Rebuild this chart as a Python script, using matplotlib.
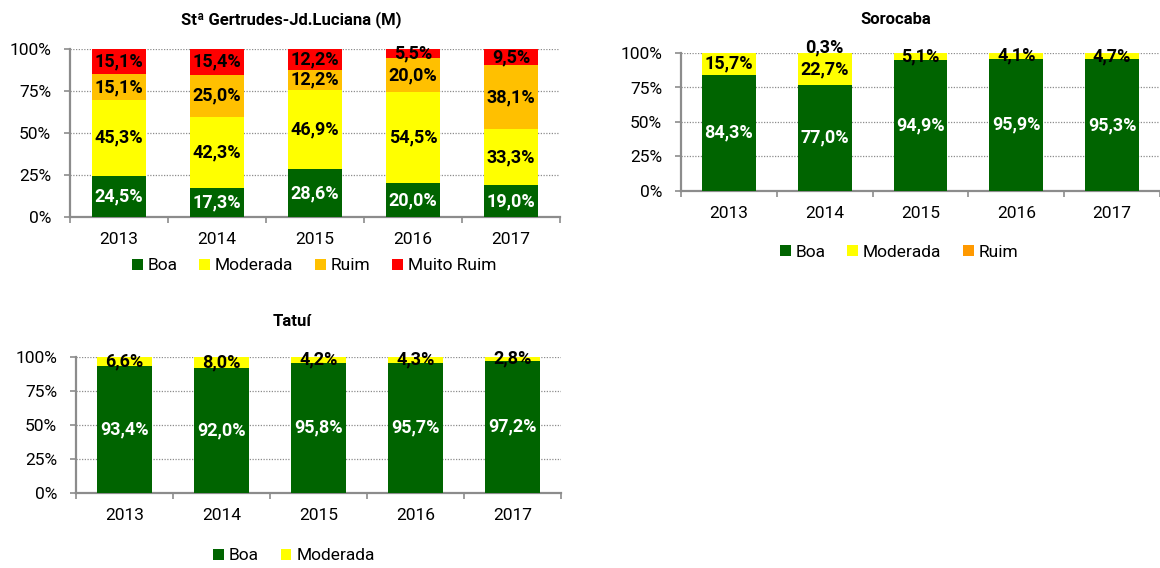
import matplotlib
matplotlib.use("Agg")
import matplotlib.pyplot as plt
from matplotlib.patches import Patch

plt.rcParams['font.family'] = ['Roboto', 'DejaVu Sans']
plt.rcParams['font.stretch'] = 'condensed'

years = ["2013", "2014", "2015", "2016", "2017"]

# St Gertrudes
sg_boa = [24.5, 17.3, 28.6, 20.0, 19.0]
sg_mod = [45.3, 42.3, 46.9, 54.5, 33.3]
sg_ruim = [15.1, 25.0, 12.2, 20.0, 38.1]
sg_mruim = [15.1, 15.4, 12.2, 5.5, 9.5]

# Sorocaba
so_boa = [84.3, 77.0, 94.9, 95.9, 95.3]
so_mod = [15.7, 22.7, 5.1, 4.1, 4.7]
so_ruim = [0.0, 0.3, 0.0, 0.0, 0.0]

# Tatui
ta_boa = [93.4, 92.0, 95.8, 95.7, 97.2]
ta_mod = [6.6, 8.0, 4.2, 4.3, 2.8]

GREEN = "#006400"
YELLOW = "#FFFF00"
AMBER = "#FFC000"
ORANGE = "#FF9900"
RED = "#FF0000"

W, H = 1160, 568
FS = 12.5
FSB = 13
FST = 12
fig = plt.figure(figsize=(W / 100, H / 100), dpi=100)


def px_axes(l, r, t, b):
    return fig.add_axes([l / W, 1 - b / H, (r - l) / W, (b - t) / H])


def fmt(v):
    return f"{v:.1f}".replace(".", ",") + "%"


def draw(ax, series, colors, txtcolors):
    x = list(range(len(years)))
    bottom = [0.0] * len(years)
    for vals, c, tc in zip(series, colors, txtcolors):
        ax.bar(x, vals, bottom=bottom, width=0.56, color=c, zorder=3)
        for i, v in enumerate(vals):
            if v <= 0:
                continue
            if v < 1:
                y = 104
            else:
                y = bottom[i] + v / 2
            ax.text(i, y, fmt(v), ha="center", va="center", color=tc,
                    fontsize=FSB, fontweight="bold", zorder=5, clip_on=False)
        bottom = [b + v for b, v in zip(bottom, vals)]
    ax.set_xlim(-0.5, len(years) - 0.5)
    ax.set_ylim(0, 100)
    ax.set_yticks([0, 25, 50, 75, 100])
    ax.set_yticklabels(["0%", "25%", "50%", "75%", "100%"], fontsize=FS)
    ax.set_xticks(x)
    ax.set_xticklabels(years, fontsize=FS)
    ax.set_xticks([i - 0.5 for i in range(len(years) + 1)], minor=True)
    ax.tick_params(axis="x", which="major", length=0, pad=11)
    ax.tick_params(axis="x", which="minor", length=4, color="#8c8c8c", direction="out", width=1.2)
    ax.tick_params(axis="y", length=4.5, color="#8c8c8c", pad=9, width=1.2)
    for s in ("top", "right"):
        ax.spines[s].set_visible(False)
    for s in ("left", "bottom"):
        ax.spines[s].set_color("#8c8c8c")
        ax.spines[s].set_linewidth(1.6)
    ax.grid(axis="y", linestyle=(0, (1, 1.2)), color="#8c8c8c", linewidth=0.9, zorder=0)
    ax.set_axisbelow(True)


def legend(labels, colors, cx, cy):
    handles = [Patch(facecolor=c, edgecolor="none", label=l) for l, c in zip(labels, colors)]
    fig.legend(handles=handles, loc="center", bbox_to_anchor=(cx / W, 1 - cy / H),
               ncol=len(labels), frameon=False, fontsize=FS, handlelength=0.62,
               handleheight=0.62, handletextpad=0.28, columnspacing=1.25)


# Chart 1
ax1 = px_axes(70, 560, 49, 217)
draw(ax1, [sg_boa, sg_mod, sg_ruim, sg_mruim], [GREEN, YELLOW, AMBER, RED],
     ["white", "black", "black", "black"])
fig.text(291 / W, 1 - 20 / H, "Stª Gertrudes-Jd.Luciana (M)", ha="center", va="center",
         fontsize=FST, fontweight="bold")
legend(["Boa", "Moderada", "Ruim", "Muito Ruim"], [GREEN, YELLOW, AMBER, RED], 314, 266)

# Chart 2
ax2 = px_axes(681, 1160, 53, 191)
draw(ax2, [so_boa, so_mod, so_ruim], [GREEN, YELLOW, ORANGE], ["white", "black", "black"])
fig.text(896 / W, 1 - 20 / H, "Sorocaba", ha="center", va="center",
         fontsize=FST, fontweight="bold")
legend(["Boa", "Moderada", "Ruim"], [GREEN, YELLOW, ORANGE], 899, 252)

# Chart 3
ax3 = px_axes(76, 561, 357, 493)
draw(ax3, [ta_boa, ta_mod], [GREEN, YELLOW], ["white", "black"])
fig.text(292 / W, 1 - 322 / H, "Tatuí", ha="center", va="center",
         fontsize=FST, fontweight="bold")
legend(["Boa", "Moderada"], [GREEN, YELLOW], 294, 556)

fig.savefig("out.png", dpi=100)
